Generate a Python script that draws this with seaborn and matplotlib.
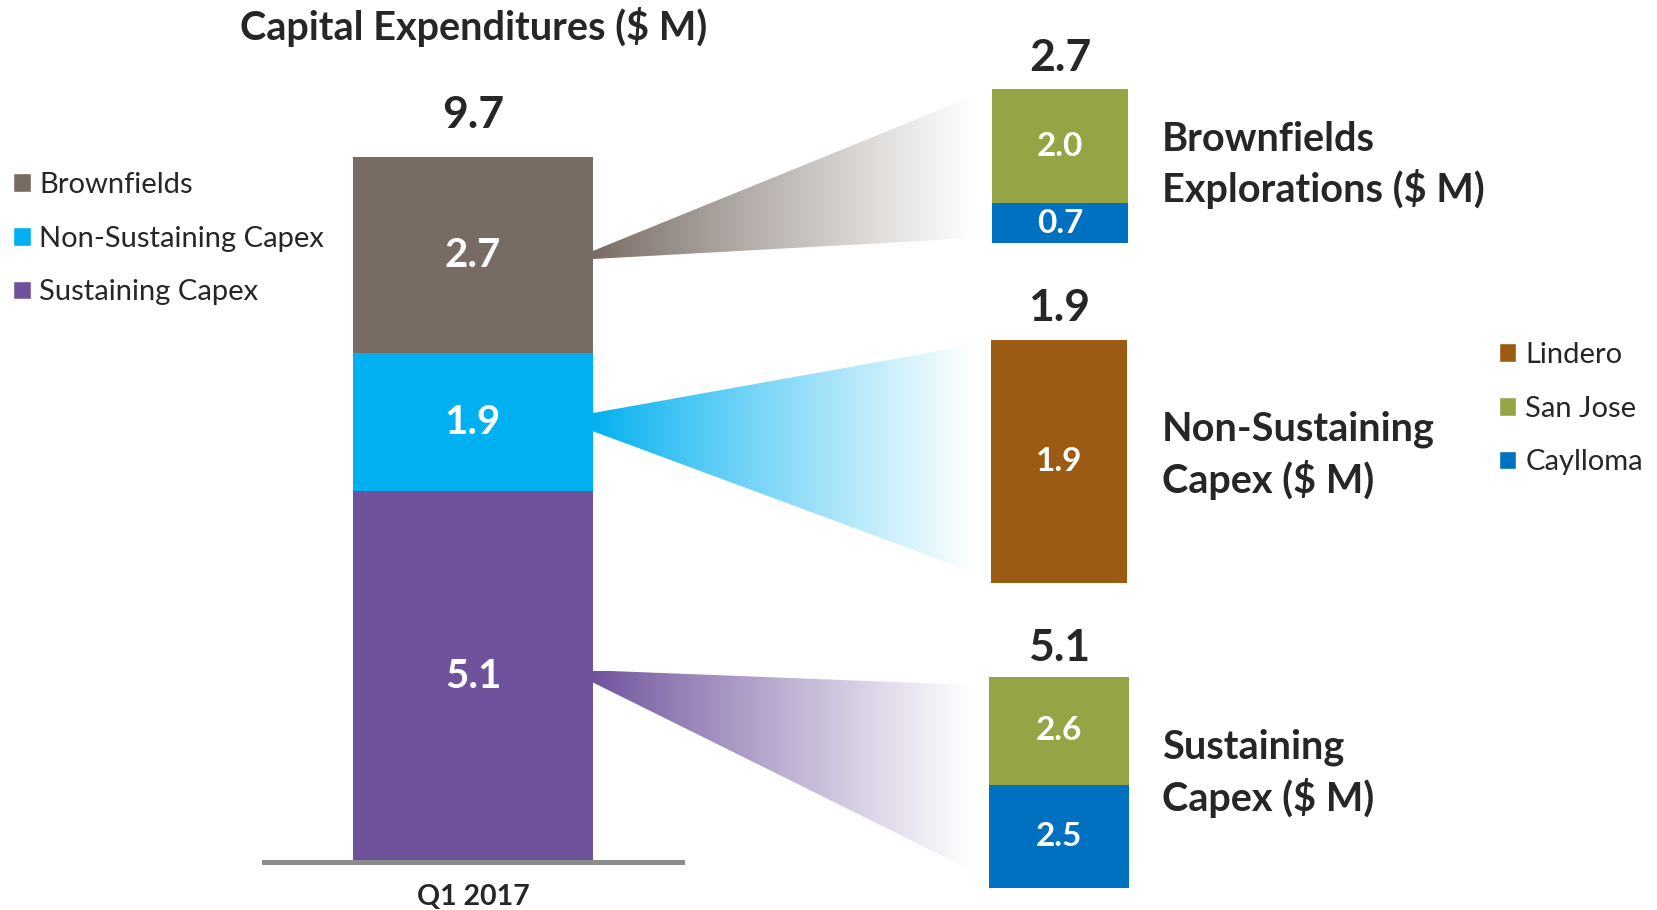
import numpy as np
import pandas as pd
import matplotlib.pyplot as plt
from matplotlib.patches import Polygon, Patch
from matplotlib.colors import to_rgb
import seaborn as sns

# main stacked bar (bottom to top)
capex_parts = ['Sustaining Capex', 'Non-Sustaining Capex', 'Brownfields']
capex_values = [5.1, 1.9, 2.7]
capex_colors = ['#6F529C', '#00B0F0', '#786B63']
quarter = 'Q1 2017'

# breakdown by mine (bottom to top)
brown_mines = ['Caylloma', 'San Jose']
brown_values = [0.7, 2.0]
nonsus_mines = ['Lindero']
nonsus_values = [1.9]
sus_mines = ['Caylloma', 'San Jose']
sus_values = [2.5, 2.6]
mine_colors = {'Lindero': '#9C5B12', 'San Jose': '#95A545', 'Caylloma': '#0070C0'}

W, H = 1658, 910

sns.set_style("white")
plt.rcParams['font.family'] = ['Lato', 'DejaVu Sans']

fig = plt.figure(figsize=(W / 100, H / 100), dpi=100)


def px_axes(x0, y_top, x1, y_bot):
    # pixel box (top-left origin) -> figure axes
    return fig.add_axes([x0 / W, 1 - y_bot / H, (x1 - x0) / W, (y_bot - y_top) / H])


def stacked(ax, names, values, colors, width, fs_in, fs_top, top_off):
    tops = np.cumsum(values)
    df = pd.DataFrame({'cat': [quarter] * len(values), 'top': tops, 'part': names})
    # draw tallest first so the smaller cumulative bars sit on top of it
    for i in range(len(values) - 1, -1, -1):
        sns.barplot(data=df.iloc[[i]], x='cat', y='top', color=colors[i], width=width,
                    saturation=1, errorbar=None, linewidth=0, ax=ax)
        ax.text(0, tops[i] - values[i] / 2, f'{values[i]:.1f}', color='white',
                fontsize=fs_in, fontweight='bold', ha='center', va='center', zorder=5)
    ax.annotate(f'{tops[-1]:.1f}', xy=(0, tops[-1]), xytext=(0, top_off), textcoords='offset points',
                ha='center', va='center', fontsize=fs_top, fontweight='bold', annotation_clip=False)
    ax.set_xlim(-0.5, 0.5)
    ax.set_ylim(0, tops[-1])
    ax.set_xlabel('')
    ax.set_ylabel('')
    ax.set_yticks([])
    ax.set_facecolor('none')
    sns.despine(ax=ax, left=True, top=True, right=True, bottom=True)


# main bar
ax = px_axes(264, 157, 682, 861.5)
stacked(ax, capex_parts, capex_values, capex_colors, 0.572, 29, 32, 30)
ax.spines['bottom'].set_visible(True)
ax.spines['bottom'].set_color('#8C8C8C')
ax.spines['bottom'].set_linewidth(3.6)
ax.tick_params(axis='x', length=0, pad=16)
for t in ax.get_xticklabels():
    t.set_fontsize(20.5)
    t.set_fontweight('bold')

# breakdown bars
ax_bf = px_axes(992, 89, 1128, 243)
stacked(ax_bf, brown_mines, brown_values, [mine_colors[m] for m in brown_mines], 1.0, 24, 32, 22)
ax_ns = px_axes(991, 340, 1127, 583)
stacked(ax_ns, nonsus_mines, nonsus_values, [mine_colors[m] for m in nonsus_mines], 1.0, 24, 32, 23)
ax_su = px_axes(989, 677, 1129, 888)
stacked(ax_su, sus_mines, sus_values, [mine_colors[m] for m in sus_mines], 1.0, 24, 32, 21)
for a in (ax_bf, ax_ns, ax_su):
    a.set_xticks([])

# gradient wedges from the main bar to the breakdowns
ov = fig.add_axes([0, 0, 1, 1])
ov.set_xlim(0, W)
ov.set_ylim(0, H)
ov.axis('off')
ov.set_zorder(-1)
ov.patch.set_alpha(0)

seg_tops = np.cumsum(capex_values)
seg_mids = seg_tops - np.array(capex_values) / 2
targets = [ax_su, ax_ns, ax_bf]
apex_half = [6, 9, 4]
far_inset = [(8, 18), (5, 11), (7, 5)]
for i, tgt in enumerate(targets):
    ax0, ay = ax.transData.transform((0.286, seg_mids[i]))
    bb = tgt.get_position()
    fx = bb.x0 * W - 18
    fy_top = bb.y1 * H - far_inset[i][0]
    fy_bot = bb.y0 * H + far_inset[i][1]
    verts = [(ax0, ay + apex_half[i]), (fx, fy_top), (fx, fy_bot), (ax0, ay - apex_half[i])]
    poly = Polygon(verts, closed=True, facecolor='none', edgecolor='none')
    ov.add_patch(poly)
    c = np.array(to_rgb(capex_colors[i]))
    t = np.linspace(0, 1, 256)[None, :, None] ** 0.9
    grad = c * (1 - t) + np.ones(3) * t
    im = ov.imshow(grad, extent=(ax0, fx, min(fy_bot, ay) - 5, max(fy_top, ay) + 5),
                   aspect='auto', interpolation='bilinear')
    im.set_clip_path(poly)
ov.set_xlim(0, W)
ov.set_ylim(0, H)

# texts
fig.text(474 / W, 1 - 27 / H, 'Capital Expenditures ($ M)', ha='center', va='center',
         fontsize=28.5, fontweight='bold')
side_labels = ['Brownfields\nExplorations ($ M)', 'Non-Sustaining\nCapex ($ M)', 'Sustaining\nCapex ($ M)']
side_y = [165, 455, 773]
for lab, y in zip(side_labels, side_y):
    fig.text(1162 / W, 1 - y / H, lab, ha='left', va='center', fontsize=28.5,
             fontweight='bold', linespacing=1.36)

# legends
left_handles = [Patch(facecolor=capex_colors[i], label=capex_parts[i]) for i in (2, 1, 0)]
fig.legend(handles=left_handles, loc='upper left', bbox_to_anchor=(13 / W, 1 - 172 / H),
           frameon=False, fontsize=21, handlelength=0.6, handleheight=0.6,
           handletextpad=0.3, labelspacing=0.95, borderaxespad=0, borderpad=0)
right_names = ['Lindero', 'San Jose', 'Caylloma']
right_handles = [Patch(facecolor=mine_colors[m], label=m) for m in right_names]
fig.legend(handles=right_handles, loc='upper left', bbox_to_anchor=(1499 / W, 1 - 342 / H),
           frameon=False, fontsize=21, handlelength=0.6, handleheight=0.6,
           handletextpad=0.3, labelspacing=0.95, borderaxespad=0, borderpad=0)

fig.savefig('out.png', dpi=100)
